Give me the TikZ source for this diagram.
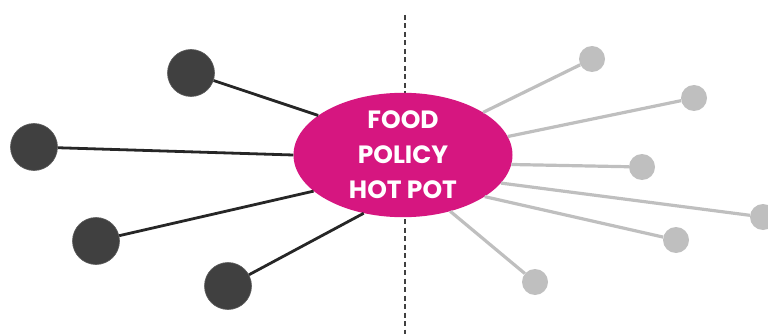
\documentclass[tikz,border=0pt]{standalone}
\usepackage{fontspec}
\setmainfont{Poppins}
\usetikzlibrary{shapes}

\definecolor{hotpink}{RGB}{214,22,128}
\definecolor{darkdotc}{RGB}{64,64,64}
\definecolor{lightdotc}{RGB}{191,191,191}

\begin{document}
\begin{tikzpicture}[x=1pt,y=-1pt,
        hotpot/.style={ellipse,fill=hotpink,text=white,inner sep=0pt,
            minimum width=219pt,minimum height=110pt,align=center,
            font=\bfseries\fontsize{25}{35}\selectfont},
        darkdot/.style={circle,fill=darkdotc,draw=darkdotc!85!white,line width=0.6pt,
            minimum size=47pt,inner sep=0pt},
        lightdot/.style={circle,fill=lightdotc,minimum size=26pt,inner sep=0pt},
        darklink/.style={draw=black!85,line width=2.8pt},
        lightlink/.style={draw=lightdotc,line width=3.2pt}]
        \useasboundingbox (0,0) rectangle (768,334);
        % divider
        \coordinate (divtop) at (405,15);
        \coordinate (divbot) at (405,334);
        \draw[black!75,line width=1.4pt,dash pattern=on 5pt off 3.5pt] (divtop) -- (divbot);
        % hub
        \node[hotpot] (hot) at (403,155) {FOOD\\POLICY\\HOT POT};
        % dark side
        \node[darkdot] (d1) at (191,73) {};
        \node[darkdot] (d2) at (34,147) {};
        \node[darkdot] (d3) at (96,241) {};
        \node[darkdot] (d4) at (228,286) {};
        \draw[darklink] (d1) -- (hot.155);
        \draw[darklink] (d2) -- (hot.180);
        \draw[darklink] (d3) -- (hot.202);
        \draw[darklink] (d4) -- (hot.236);
        % light side
        \node[lightdot] (l1) at (592,59) {};
        \node[lightdot] (l2) at (694,98) {};
        \node[lightdot] (l3) at (642,167) {};
        \node[lightdot] (l4) at (763,217) {};
        \node[lightdot] (l5) at (676,240) {};
        \node[lightdot] (l6) at (535,282) {};
        \draw[lightlink] (l1) -- (hot.28);
        \draw[lightlink] (l2) -- (hot.10);
        \draw[lightlink] (l3) -- (hot.-5);
        \draw[lightlink] (l4) -- (hot.-16);
        \draw[lightlink] (l5) -- (hot.-27);
        \draw[lightlink] (l6) -- (hot.-50);
\end{tikzpicture}
\end{document}
